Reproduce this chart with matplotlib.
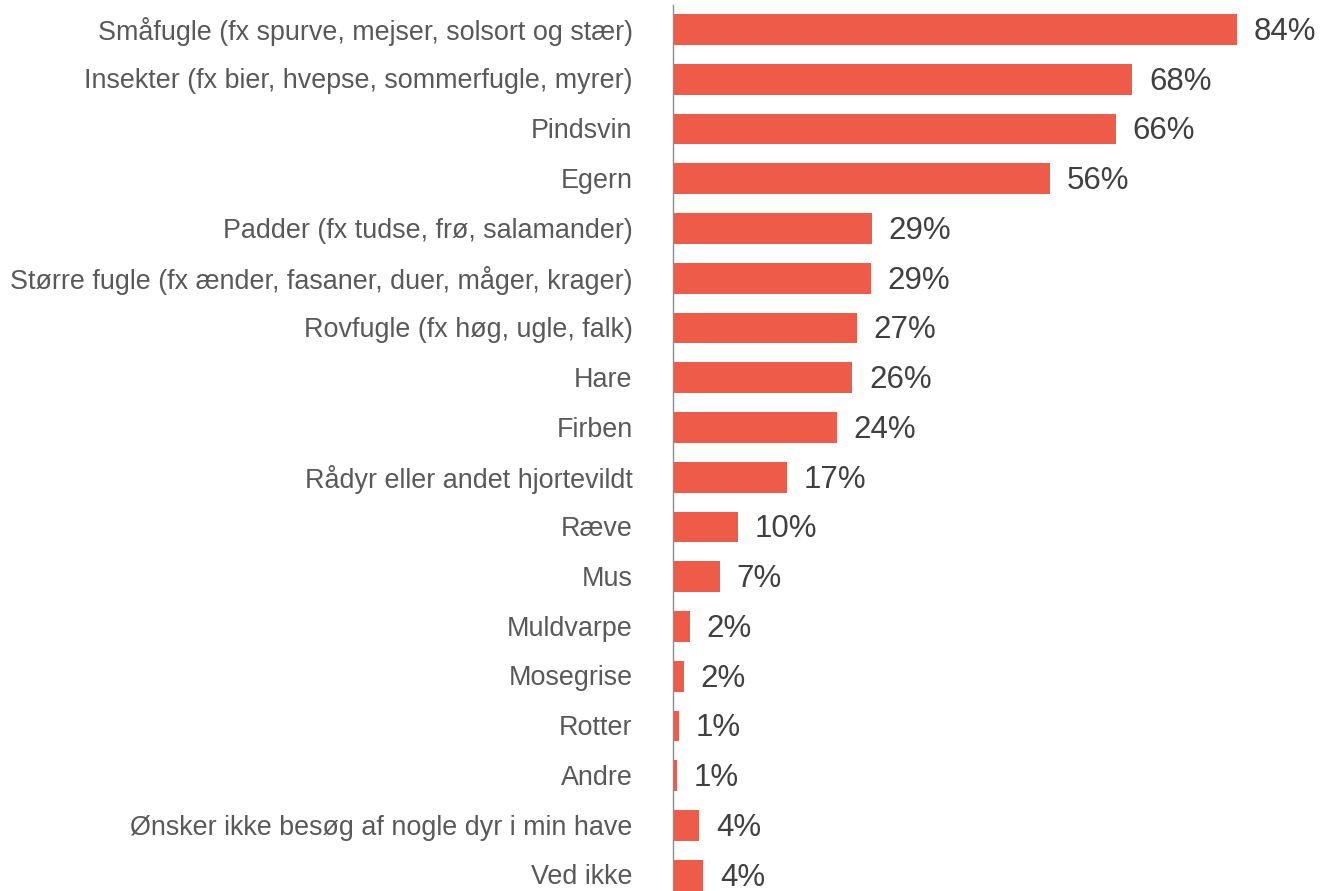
import matplotlib.pyplot as plt
from matplotlib.transforms import ScaledTranslation

categories = [
    "Småfugle (fx spurve, mejser, solsort og stær)",
    "Insekter (fx bier, hvepse, sommerfugle, myrer)",
    "Pindsvin",
    "Egern",
    "Padder (fx tudse, frø, salamander)",
    "Større fugle (fx ænder, fasaner, duer, måger, krager)",
    "Rovfugle (fx høg, ugle, falk)",
    "Hare",
    "Firben",
    "Rådyr eller andet hjortevildt",
    "Ræve",
    "Mus",
    "Muldvarpe",
    "Mosegrise",
    "Rotter",
    "Andre",
    "Ønsker ikke besøg af nogle dyr i min have",
    "Ved ikke",
]
# bar lengths as measured in the picture
values = [84.0, 68.4, 66.0, 56.1, 29.6, 29.5, 27.4, 26.7, 24.4, 17.0,
          9.7, 7.0, 2.5, 1.6, 0.9, 0.6, 3.9, 4.5]
# printed labels
labels = [84, 68, 66, 56, 29, 29, 27, 26, 24, 17, 10, 7, 2, 2, 1, 1, 4, 4]

plt.rcParams['font.family'] = ['Liberation Sans', 'DejaVu Sans']

fig = plt.figure(figsize=(13.21, 8.91), dpi=100)
W, H = 1321, 891
ax = fig.add_axes([673 / W, 0, (W - 673) / W, (H - 5) / H])

pos = list(range(len(categories)))
ax.barh(pos, values, height=0.62, color='#EF5B49')

for p, v, lab in zip(pos, values, labels):
    ax.annotate(f"{lab}%", (v, p), xytext=(12, -1.8), textcoords='offset points',
                va='center', ha='left', fontsize=22.5, color='#404040')

ax.set_xlim(0, 96.5)
ax.set_ylim(17.317, -0.4925)
ax.set_yticks(pos)
ax.set_yticklabels(categories, fontsize=19.4, color='#595959', va='center')
ax.tick_params(axis='y', length=0, pad=29)
# nudge category labels down a little
shift = ScaledTranslation(0, -1.5 / 72, fig.dpi_scale_trans)
for t in ax.get_yticklabels():
    t.set_transform(t.get_transform() + shift)
ax.set_xticks([])
for s in ['top', 'right', 'bottom']:
    ax.spines[s].set_visible(False)
ax.spines['left'].set_color('#8C8C8C')
ax.spines['left'].set_linewidth(1)

fig.savefig('out.png', dpi=100)
